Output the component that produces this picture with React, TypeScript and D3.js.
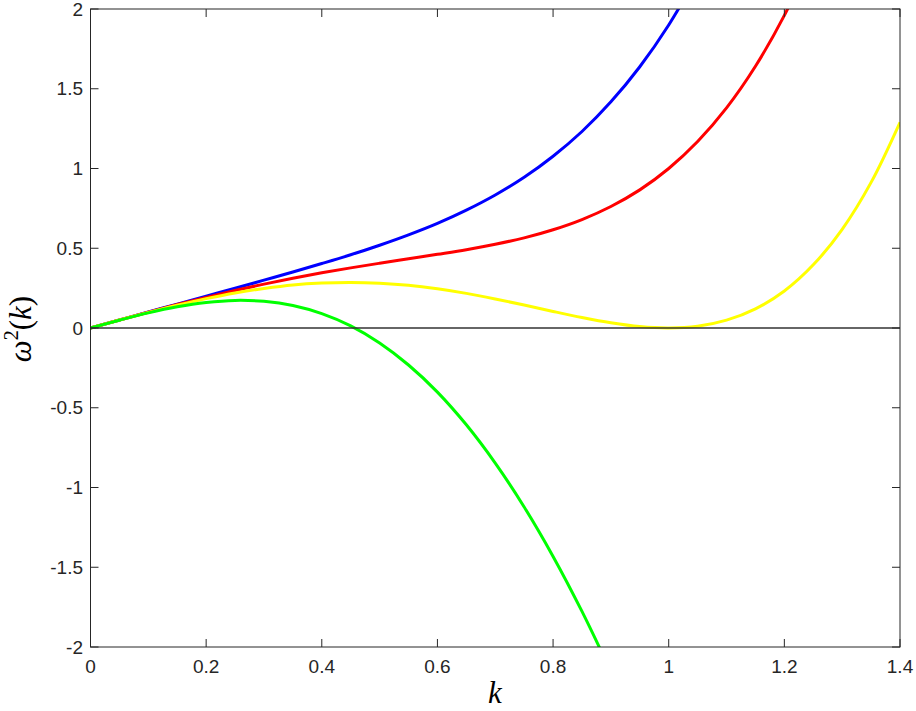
import React from "react";
import * as d3 from "d3";

const xTicks = [0, 0.2, 0.4, 0.6, 0.8, 1, 1.2, 1.4];
const yTicks = [-2, -1.5, -1, -0.5, 0, 0.5, 1, 1.5, 2];

// shared k grid (each series uses a prefix of it)
const kGrid = [0, 0.05, 0.1, 0.15, 0.2, 0.25, 0.3, 0.35, 0.4, 0.45, 0.5, 0.55, 0.6, 0.65, 0.7, 0.75, 0.8, 0.85, 0.9, 0.95, 1.0, 1.05, 1.1, 1.15, 1.2, 1.25, 1.3, 1.35, 1.4];

const blueV = [0, 0.05, 0.1, 0.15, 0.2, 0.249, 0.3, 0.351, 0.404, 0.459, 0.519, 0.584, 0.656, 0.739, 0.834, 0.945, 1.077, 1.232, 1.418, 1.638, 1.9, 2.21];
const redV = [0, 0.05, 0.099, 0.147, 0.192, 0.235, 0.275, 0.312, 0.346, 0.377, 0.406, 0.434, 0.462, 0.491, 0.525, 0.565, 0.616, 0.68, 0.762, 0.866, 1.0, 1.169, 1.38, 1.641, 1.96, 2.347];
const yellowV = [0, 0.05, 0.098, 0.143, 0.184, 0.22, 0.248, 0.27, 0.282, 0.286, 0.281, 0.268, 0.246, 0.217, 0.182, 0.144, 0.104, 0.066, 0.033, 0.009, 0, 0.011, 0.049, 0.12, 0.232, 0.396, 0.619, 0.913, 1.29];
const greenV = [0, 0.049, 0.095, 0.133, 0.16, 0.173, 0.167, 0.141, 0.09, 0.013, -0.094, -0.232, -0.402, -0.607, -0.847, -1.122, -1.432, -1.777, -2.155];

const series = [
  { v: blueV, color: "#0000ff" },
  { v: redV, color: "#ff0000" },
  { v: yellowV, color: "#ffff00" },
  { v: greenV, color: "#00ff00" },
];

const W = 916;
const H = 711;
const left = 90.5;
const right = 900;
const top = 9;
const bottom = 647;
const axisColor = "#262626";

export default function App() {
  const x = d3.scaleLinear().domain([0, 1.4]).range([left, right]);
  const y = d3.scaleLinear().domain([-2, 2]).range([bottom, top]);
  const line = d3
    .line<[number, number]>()
    .x((d) => x(d[0]))
    .y((d) => y(d[1]))
    .curve(d3.curveCatmullRom.alpha(0.5));
  const tl = 8;
  return (
    <svg
      width={W}
      height={H}
      style={{ position: "absolute", left: 0, top: 0, background: "#fff" }}
    >
      <defs>
        <clipPath id="plotclip">
          <rect x={left} y={top} width={right - left} height={bottom - top} />
        </clipPath>
      </defs>
      <g clipPath="url(#plotclip)">
        {series.map((s, i) => (
          <path
            key={i}
            d={line(s.v.map((vv, j) => [kGrid[j], vv] as [number, number])) || ""}
            fill="none"
            stroke={s.color}
            strokeWidth={3}
            strokeLinejoin="round"
          />
        ))}
        <line x1={left} x2={right} y1={y(0)} y2={y(0)} stroke="#333" strokeWidth={1.5} />
      </g>
      <rect
        x={left}
        y={top}
        width={right - left}
        height={bottom - top}
        fill="none"
        stroke={axisColor}
        strokeWidth={1}
      />
      {xTicks.map((t) => (
        <g key={"x" + t}>
          <line x1={x(t)} x2={x(t)} y1={bottom} y2={bottom - tl} stroke={axisColor} />
          <line x1={x(t)} x2={x(t)} y1={top} y2={top + tl} stroke={axisColor} />
          <text
            x={x(t)}
            y={666}
            textAnchor="middle"
            dominantBaseline="central"
            fontFamily="Liberation Sans, Arial, sans-serif"
            fontSize={19}
            fill={axisColor}
          >
            {String(t)}
          </text>
        </g>
      ))}
      {yTicks.map((t) => (
        <g key={"y" + t}>
          <line x1={left} x2={left + tl} y1={y(t)} y2={y(t)} stroke={axisColor} />
          <line x1={right} x2={right - tl} y1={y(t)} y2={y(t)} stroke={axisColor} />
          <text
            x={83}
            y={y(t)}
            textAnchor="end"
            dominantBaseline="central"
            fontFamily="Liberation Sans, Arial, sans-serif"
            fontSize={19}
            fill={axisColor}
          >
            {String(t)}
          </text>
        </g>
      ))}
      <text
        x={495}
        y={703}
        textAnchor="middle"
        fontFamily="Liberation Serif, Times New Roman, serif"
        fontStyle="italic"
        fontSize={31}
        fill="#000"
      >
        k
      </text>
      <text
        transform={`translate(31, ${y(0) + 1}) rotate(-90)`}
        textAnchor="middle"
        fontFamily="Liberation Serif, Times New Roman, serif"
        fontSize={31}
        fill="#000"
      >
        <tspan fontStyle="italic">ω</tspan>
        <tspan fontSize={20} dy={-13}>2</tspan>
        <tspan dy={13}>(</tspan>
        <tspan fontStyle="italic">k</tspan>
        <tspan>)</tspan>
      </text>
    </svg>
  );
}
